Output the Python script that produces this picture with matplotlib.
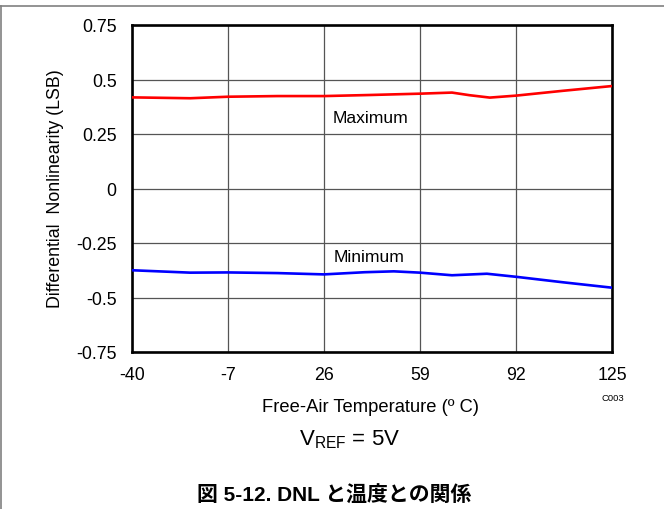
import matplotlib
matplotlib.use("Agg")
import matplotlib.pyplot as plt
from matplotlib.lines import Line2D

plt.rcParams['font.family'] = ['Liberation Sans', 'DejaVu Sans']
plt.rcParams['mathtext.fontset'] = 'custom'
plt.rcParams['mathtext.rm'] = 'Liberation Sans'

# DNL vs free-air temperature
temp_max = [-40, -20, -7, 10, 26, 42, 59, 70, 76, 83, 92, 108, 125]
dnl_max = [0.418, 0.414, 0.421, 0.424, 0.424, 0.429, 0.435, 0.440, 0.428, 0.417, 0.426, 0.448, 0.470]
temp_min = [-40, -20, -7, 10, 26, 40, 50, 59, 70, 82, 92, 108, 125]
dnl_min = [-0.375, -0.386, -0.385, -0.388, -0.394, -0.384, -0.380, -0.386, -0.398, -0.391, -0.405, -0.430, -0.455]

x_ticks = [-40, -7, 26, 59, 92, 125]
y_ticks = [-0.75, -0.5, -0.25, 0, 0.25, 0.5, 0.75]
y_ticklabels = ['-0.75', '-0.5', '-0.25', '0', '0.25', '0.5', '0.75']

fig = plt.figure(figsize=(6.64, 5.10), dpi=100)
ax = fig.add_axes([132 / 664, 1 - 353 / 510, 480 / 664, 327 / 510])

ax.plot(temp_max, dnl_max, color='#ff0000', lw=1.9, solid_capstyle='butt', zorder=3)
ax.plot(temp_min, dnl_min, color='#0000ff', lw=1.9, solid_capstyle='butt', zorder=3)

ax.set_xlim(-40, 125)
ax.set_ylim(-0.75, 0.75)
ax.set_xticks(x_ticks)
ax.set_xticklabels([str(t) for t in x_ticks])
ax.set_yticks(y_ticks)
ax.set_yticklabels(y_ticklabels)
ax.tick_params(length=0, labelsize=12.8, colors='black')
ax.tick_params(axis='x', pad=10)
ax.tick_params(axis='y', pad=11)
ax.grid(True, color='#555555', lw=0.9)
ax.set_axisbelow(True)
for s in ax.spines.values():
    s.set_linewidth(1.9)
    s.set_color('black')

ax.text(26 + (370 - 324) / 96 * 33, 0.75 - (119 - 26) / 327 * 1.5, 'Maximum',
        ha='center', va='center', fontsize=12.6)
ax.text(26 + (369 - 324) / 96 * 33, 0.75 - (258 - 26) / 327 * 1.5, 'Minimum',
        ha='center', va='center', fontsize=12.6)

fig.text(56 / 664, 1 - 189 / 510, 'Differential  Nonlinearity (LSB)', rotation=90,
         ha='center', va='center', fontsize=12.8)
fig.text(370 / 664, 1 - 407 / 510, 'Free-Air Temperature (º C)', ha='center', va='center', fontsize=13.2)
fig.text(613 / 664, 1 - 399 / 510, 'C003', ha='center', va='center', fontsize=6.8)
fig.text(350 / 664, 1 - 440 / 510, r'V$_{\mathregular{REF}}$ = 5V', ha='center', va='center', fontsize=16)
fig.text(334 / 664, 1 - 496 / 510, '図 5-12. DNL と温度との関係', ha='center', va='center',
         fontsize=15, fontweight='bold', family=['Liberation Sans', 'Noto Sans CJK JP'])

# outer frame lines
fig.add_artist(Line2D([0, 1], [1 - 7 / 510, 1 - 7 / 510], color='#808080', lw=1.2, transform=fig.transFigure))
fig.add_artist(Line2D([1 / 664, 1 / 664], [0, 1 - 7 / 510], color='#808080', lw=1.2, transform=fig.transFigure))

fig.savefig('out.png', dpi=100)
